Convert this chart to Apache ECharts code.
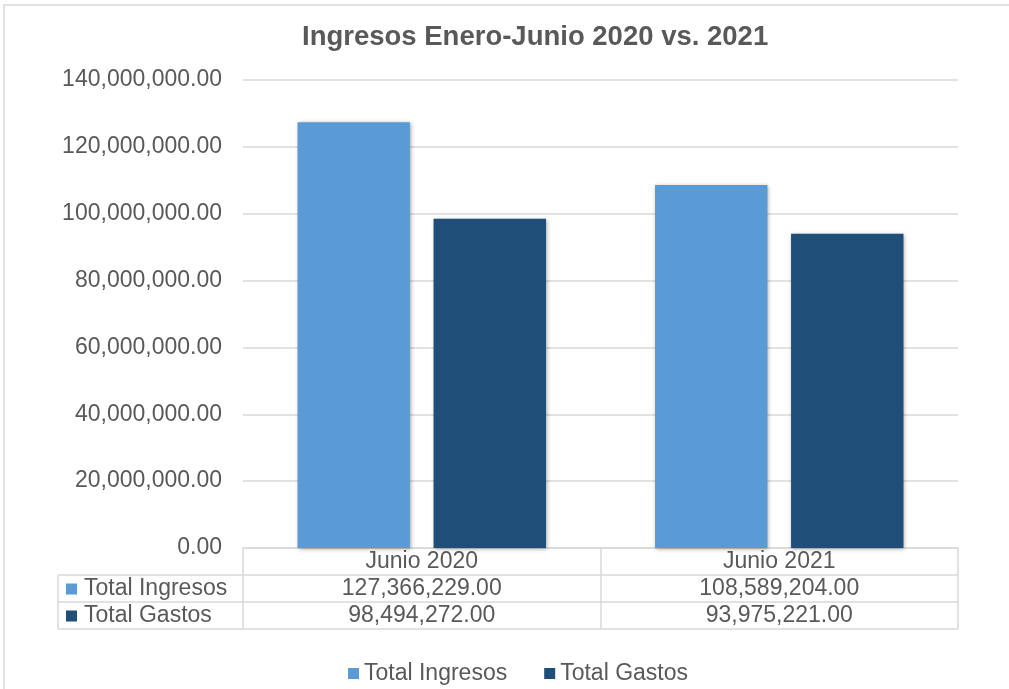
<!DOCTYPE html>
<html>
<head>
<meta charset="utf-8">
<script src="https://cdn.jsdelivr.net/npm/echarts@6/dist/echarts.min.js"></script>
<style>
html,body{margin:0;padding:0;background:#fff;}
#chart{width:1009px;height:689px;}
</style>
</head>
<body>
<div id="chart"></div>
<script>
const title = 'Ingresos Enero-Junio 2020 vs. 2021';
const categories = ['Junio 2020', 'Junio 2021'];
const seriesNames = ['Total Ingresos', 'Total Gastos'];
const ingresos = [127366229.00, 108589204.00];
const gastos = [98494272.00, 93975221.00];
const colors = ['#5B9BD5', '#1F4E79'];
const yMin = 0, yMax = 140000000, yStep = 20000000;

function fmt(v) {
  const parts = Number(v).toFixed(2).split('.');
  parts[0] = parts[0].replace(/\B(?=(\d{3})+(?!\d))/g, ',');
  return parts.join('.');
}

const W = 1009, H = 689;
const gLeft = 243, gRight = 958, gTop = 80, gBottom = 548;
const rowH = 27, tableLeft = 58;
const txt = '#595959', line = '#d9d9d9';
const FS = 23;
const fam = '"Liberation Sans", Arial, sans-serif';

const rows = [ingresos, gastos];

const graphics = [
  { type: 'rect', shape: { x: 4, y: 5, width: 1200, height: 1000 }, style: { fill: 'none', stroke: line, lineWidth: 1.5 }, silent: true }
];
for (let r = 1; r <= 3; r++) {
  graphics.push({ type: 'line', shape: { x1: tableLeft, y1: gBottom + r * rowH, x2: gRight, y2: gBottom + r * rowH }, style: { stroke: line, lineWidth: 1.5 }, silent: true });
}
graphics.push({ type: 'line', shape: { x1: tableLeft, y1: gBottom + rowH, x2: tableLeft, y2: gBottom + 3 * rowH }, style: { stroke: line, lineWidth: 1.5 }, silent: true });
seriesNames.forEach((n, i) => {
  const cy = gBottom + rowH * (i + 1) + rowH / 2;
  graphics.push({ type: 'rect', shape: { x: 66, y: cy - 5, width: 11, height: 11 }, style: { fill: colors[i] }, silent: true });
  graphics.push({ type: 'text', x: 84, y: cy, style: { text: n, fill: txt, font: FS + 'px ' + fam, textVerticalAlign: 'middle', verticalAlign: 'middle' }, silent: true });
});

const xAxes = [
  {
    type: 'category', data: categories, gridIndex: 0, position: 'bottom',
    axisLine: { show: true, lineStyle: { color: line, width: 1.5 } },
    axisTick: { show: true, alignWithLabel: false, length: rowH * 3, lineStyle: { color: line, width: 1.5 } },
    axisLabel: { color: txt, fontSize: FS, fontFamily: fam, margin: rowH / 2, verticalAlign: 'middle' }
  }
];
rows.forEach((arr, i) => {
  xAxes.push({
    type: 'category', data: categories, gridIndex: 0, position: 'bottom', offset: rowH * (i + 1),
    axisLine: { show: false }, axisTick: { show: false },
    axisLabel: { color: txt, fontSize: FS, fontFamily: fam, margin: rowH / 2, verticalAlign: 'middle',
      formatter: (v, idx) => fmt(arr[idx]) }
  });
});

const chart = echarts.init(document.getElementById('chart'), null, { renderer: 'canvas' });
chart.setOption({
  backgroundColor: '#fff',
  animation: false,
  color: colors,
  title: {
    text: title, left: 297, top: 18,
    textStyle: { color: txt, fontSize: 27.5, fontWeight: 'bold', fontFamily: fam }
  },
  legend: {
    data: seriesNames, left: 343, top: 657, icon: 'rect', itemWidth: 11, itemHeight: 11, itemGap: 37,
    textStyle: { color: txt, fontSize: FS, fontFamily: fam }
  },
  grid: { left: gLeft, right: W - gRight, top: gTop, bottom: H - gBottom, containLabel: false },
  xAxis: xAxes,
  yAxis: {
    type: 'value', min: yMin, max: yMax, interval: yStep,
    axisLine: { show: false }, axisTick: { show: false },
    axisLabel: { color: txt, fontSize: FS, fontFamily: fam, margin: 21, formatter: v => fmt(v) },
    splitLine: { lineStyle: { color: line, width: 1.5 } }
  },
  series: [
    { name: seriesNames[0], type: 'bar', data: ingresos, barGap: '21%', barCategoryGap: '30.5%',
      itemStyle: { color: colors[0], shadowBlur: 4, shadowColor: 'rgba(0,0,0,0.35)', shadowOffsetX: 1, shadowOffsetY: 1 } },
    { name: seriesNames[1], type: 'bar', data: gastos, barGap: '21%', barCategoryGap: '30.5%',
      itemStyle: { color: colors[1], shadowBlur: 4, shadowColor: 'rgba(0,0,0,0.35)', shadowOffsetX: 1, shadowOffsetY: 1 } }
  ],
  graphic: graphics
});
</script>
</body>
</html>
